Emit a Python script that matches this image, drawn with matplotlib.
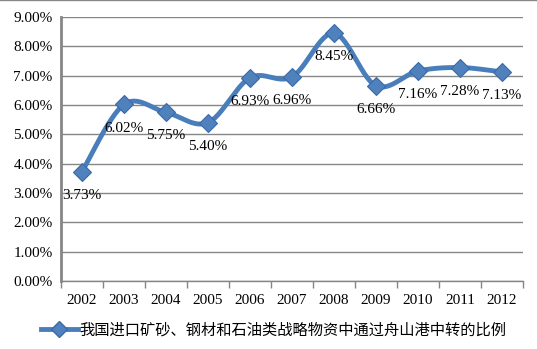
import numpy as np
import matplotlib
matplotlib.use("Agg")
import matplotlib.pyplot as plt
from matplotlib.ticker import FuncFormatter, FixedLocator
from matplotlib.lines import Line2D

years = ["2002", "2003", "2004", "2005", "2006", "2007", "2008", "2009", "2010", "2011", "2012"]
values = [3.73, 6.02, 5.75, 5.40, 6.93, 6.96, 8.45, 6.66, 7.16, 7.28, 7.13]
series_name = "我国进口矿砂、钢材和石油类战略物资中通过舟山港中转的比例"

def smooth(x, y, n=30):
    x = np.asarray(x, float); y = np.asarray(y, float)
    px = np.concatenate([[x[0]], x, [x[-1]]])
    py = np.concatenate([[y[0]], y, [y[-1]]])
    xs, ys = [], []
    for i in range(1, len(px) - 2):
        p0, p1, p2, p3 = (np.array([px[j], py[j]]) for j in (i - 1, i, i + 1, i + 2))
        c1 = p1 + (p2 - p0) / 6
        c2 = p2 - (p3 - p1) / 6
        t = np.linspace(0, 1, n)[:, None]
        pts = (1 - t) ** 3 * p1 + 3 * (1 - t) ** 2 * t * c1 + 3 * (1 - t) * t ** 2 * c2 + t ** 3 * p2
        xs.append(pts[:, 0]); ys.append(pts[:, 1])
    return np.concatenate(xs), np.concatenate(ys)

serif = ["Liberation Serif", "DejaVu Serif"]
fig = plt.figure(figsize=(5.37, 3.49), dpi=100)
ax = fig.add_axes([0.1136, 0.195, 0.860, 0.756])

x = np.arange(len(years))
sx, sy = smooth(x, values)
line_color = "#4A7EBB"
ax.plot(sx, sy, color=line_color, lw=3.5, solid_capstyle="round", zorder=3)
ax.plot(x, values, linestyle="none", marker="D", ms=9, mfc="#4F81BD", mec="#3A6AA8", mew=0.8, zorder=4)

for xi, v in zip(x, values):
    ax.annotate(f"{v:.2f}%", (xi, v), xytext=(0, -17), textcoords="offset points",
                ha="center", va="center", fontsize=11, family=serif, color="black", zorder=5)

ax.set_xlim(-0.5, len(years) - 0.5)
ax.set_ylim(0, 9)
ax.set_yticks(np.arange(0, 10, 1))
ax.yaxis.set_major_formatter(FuncFormatter(lambda v, p: f"{v:.2f}%"))
ax.set_xticks(x)
ax.set_xticklabels(years)
ax.xaxis.set_minor_locator(FixedLocator(np.arange(-0.5, len(years), 1)))
ax.tick_params(axis="x", which="major", length=0, pad=9.5)
ax.tick_params(axis="x", which="minor", length=5, color="#868686", width=1)
ax.tick_params(axis="y", length=0, pad=6)
for lab in ax.get_xticklabels() + ax.get_yticklabels():
    lab.set_family(serif); lab.set_fontsize(11)

ax.grid(axis="y", color="#868686", lw=1)
ax.set_axisbelow(True)
for s in ["top", "right"]:
    ax.spines[s].set_visible(False)
ax.spines["left"].set_color("#868686"); ax.spines["left"].set_linewidth(2)
ax.spines["bottom"].set_color("#868686"); ax.spines["bottom"].set_linewidth(1)

h = Line2D([], [], color=line_color, lw=3.5, marker="D", ms=8, mfc="#4F81BD", mec="#3A6AA8")
leg = fig.legend([h], [series_name], loc="center", bbox_to_anchor=(0.51, 0.055), frameon=False,
                 prop={"family": ["Noto Sans CJK SC", "DejaVu Sans"], "size": 11}, handlelength=2.4,
                 handletextpad=0.15)

fig.add_artist(Line2D([0, 1], [0.999, 0.999], color="#888888", lw=1, transform=fig.transFigure))
fig.savefig("out.png", dpi=100)
